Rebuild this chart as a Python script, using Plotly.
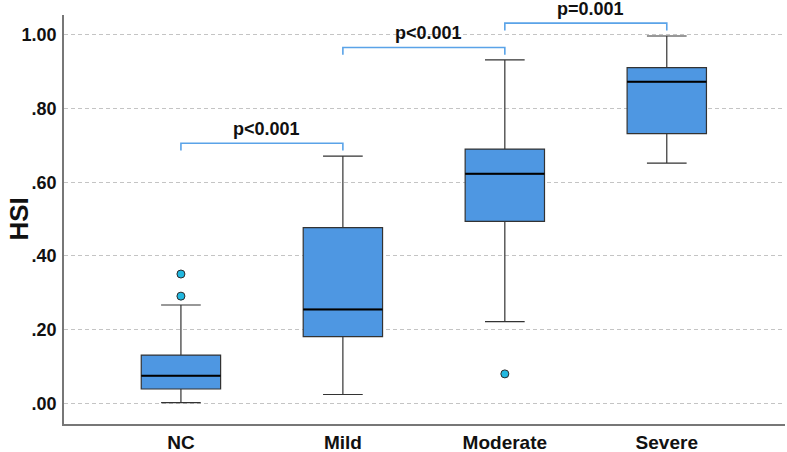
import plotly.graph_objects as go

groups = ["NC", "Mild", "Moderate", "Severe"]
lower_whisker = [0.002, 0.024, 0.222, 0.652]
q1 = [0.039, 0.181, 0.494, 0.732]
median = [0.075, 0.255, 0.623, 0.873]
q3 = [0.131, 0.477, 0.690, 0.911]
upper_whisker = [0.267, 0.671, 0.932, 0.997]

outlier_group = [0, 0, 2]
outlier_value = [0.291, 0.351, 0.080]

# comparisons: (from group, to group, bracket height, label)
bracket_from = [0, 1, 2]
bracket_to = [1, 2, 3]
bracket_y = [0.706, 0.966, 1.032]
bracket_label = ["p<0.001", "p<0.001", "p=0.001"]

y_ticks = [0.0, 0.2, 0.4, 0.6, 0.8, 1.0]
y_ticktext = [".00", ".20", ".40", ".60", ".80", "1.00"]

FONT = "Liberation Sans, Arial, sans-serif"
BOX_W = 0.49
pos = list(range(len(groups)))

fig = go.Figure()

fig.add_trace(
    go.Box(
        x=pos,
        q1=q1,
        median=median,
        q3=q3,
        lowerfence=lower_whisker,
        upperfence=upper_whisker,
        width=BOX_W,
        whiskerwidth=0.5,
        fillcolor="#4E97E2",
        line=dict(color="#333333", width=1.2),
        showlegend=False,
        hoverinfo="skip",
    )
)

# darker median bars drawn on top
mx, my = [], []
for p, m in zip(pos, median):
    mx += [p - BOX_W / 2, p + BOX_W / 2, None]
    my += [m, m, None]
fig.add_trace(
    go.Scatter(x=mx, y=my, mode="lines", line=dict(color="black", width=2),
               showlegend=False, hoverinfo="skip")
)

fig.add_trace(
    go.Scatter(
        x=outlier_group,
        y=outlier_value,
        mode="markers",
        marker=dict(size=8, color="#22B8E0", line=dict(color="#2a2a2a", width=1)),
        showlegend=False,
        hoverinfo="skip",
        cliponaxis=False,
    )
)

# significance brackets
for a, b, yb, lab in zip(bracket_from, bracket_to, bracket_y, bracket_label):
    drop = 0.02
    fig.add_trace(
        go.Scatter(
            x=[a, a, b, b],
            y=[yb - drop, yb, yb, yb - drop],
            mode="lines",
            line=dict(color="#5AA3E8", width=1.6),
            showlegend=False,
            hoverinfo="skip",
        )
    )
    fig.add_annotation(
        x=(a + b) / 2 + 0.03, y=yb, text=f"<b>{lab}</b>", showarrow=False,
        yanchor="bottom", yshift=2,
        font=dict(family=FONT, size=18, color="#111"),
    )

fig.add_annotation(
    xref="paper", yref="paper", x=0, y=0.5, xshift=-46, xanchor="center",
    yanchor="middle", text="<b>HSI</b>", textangle=-90, showarrow=False,
    font=dict(family=FONT, size=26, color="#111"),
)

fig.update_xaxes(
    range=[-0.722, 3.73],
    tickvals=pos,
    ticktext=[f"<b>{g}</b>" for g in groups],
    showgrid=False,
    zeroline=False,
    showline=True,
    linecolor="#777",
    linewidth=1.5,
    ticks="",
    ticklabelstandoff=0,
    automargin=False,
    tickfont=dict(family=FONT, size=19, color="#111"),
)
fig.update_yaxes(
    range=[-0.056, 1.054],
    tickvals=y_ticks,
    ticktext=[f"<b>{t}</b>" for t in y_ticktext],
    showgrid=True,
    gridcolor="#c4c4c4",
    griddash="4px,3px",
    gridwidth=1,
    zeroline=False,
    showline=True,
    linecolor="#777",
    linewidth=1.5,
    ticks="",
    ticklabelstandoff=2,
    automargin=False,
    tickfont=dict(family=FONT, size=18, color="#111"),
)

fig.update_layout(
    width=787,
    height=452,
    margin=dict(l=64, r=2, t=15, b=28),
    plot_bgcolor="white",
    paper_bgcolor="white",
    font=dict(family=FONT, color="#111"),
    showlegend=False,
)

fig.write_html(
    "out.html",
    config={"displayModeBar": False},
    post_script="document.body.style.margin='0';",
)
